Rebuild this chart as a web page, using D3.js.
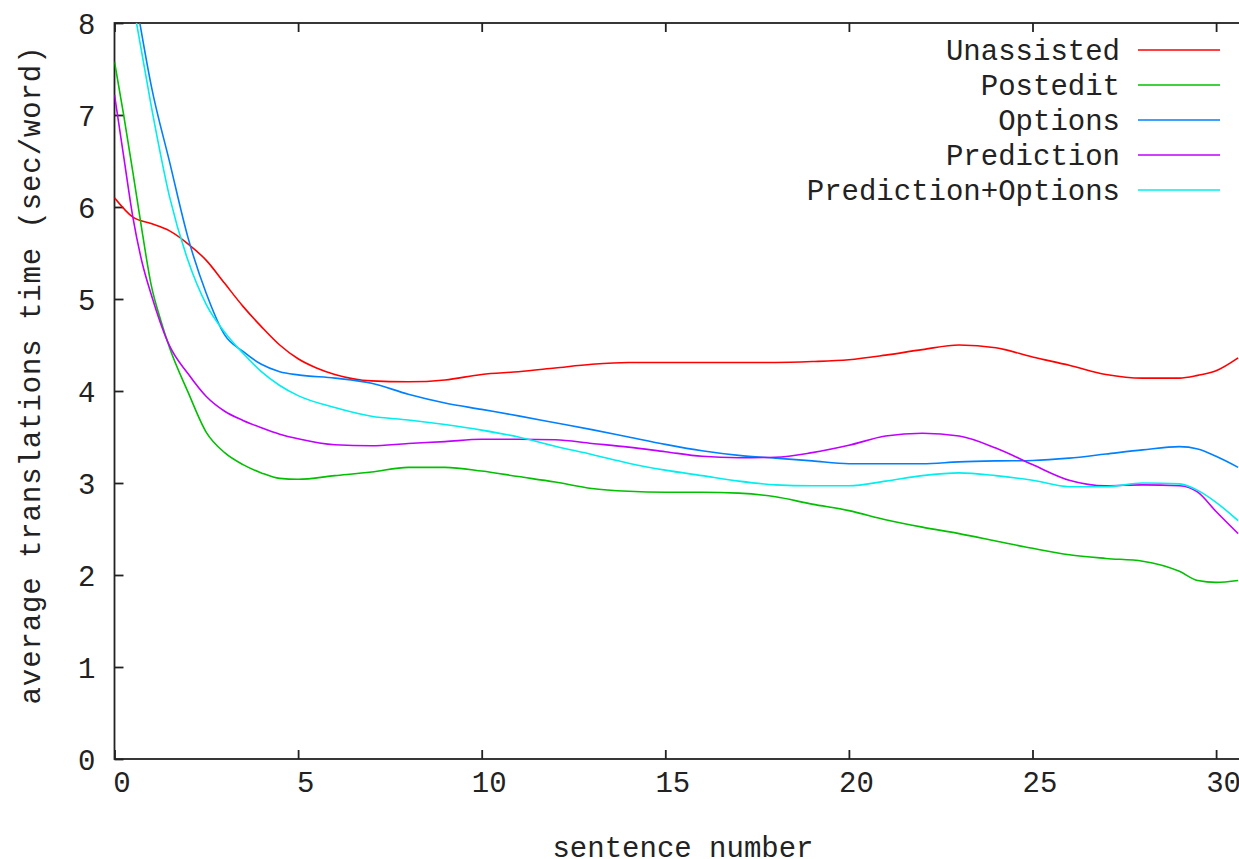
<!DOCTYPE html>
<html><head><meta charset="utf-8">
<script src="https://cdn.jsdelivr.net/npm/d3@7"></script>
<style>
html,body{margin:0;padding:0;background:#fff;}
svg{display:block;}
text{font-family:"Liberation Mono","DejaVu Sans Mono",monospace;fill:#222;}
</style></head>
<body>
<svg id="chart" width="1239" height="859"></svg>
<script>
// ---- data ----
const seriesNames = ["Unassisted","Postedit","Options","Prediction","Prediction+Options"];
const seriesColors = ["#ff0000","#00c000","#0080ff","#c000ff","#00eeee"];
const xTicks = [0,5,10,15,20,25,30];
const yTicks = [0,1,2,3,4,5,6,7,8];

const xUnassisted = [0,0.5,1,1.5,2,2.5,3,3.5,4,4.5,5,5.5,6,7,8,9,10,11,12,13,14,15,16,17,18,19,20,21,22,23,24,25,26,27,28,29,29.5,30,30.6];
const yUnassisted = [6.1,5.89,5.82,5.74,5.6,5.42,5.17,4.92,4.7,4.5,4.35,4.25,4.18,4.11,4.1,4.12,4.18,4.21,4.25,4.29,4.31,4.31,4.31,4.31,4.31,4.32,4.34,4.39,4.45,4.5,4.47,4.37,4.28,4.18,4.14,4.14,4.17,4.22,4.36];

const xPostedit = [0,0.25,0.5,0.75,1,1.25,1.5,2,2.5,3,3.5,4,4.5,5,6,7,8,9,10,11,12,13,14,15,16,17,18,19,20,21,22,23,24,25,26,27,28,29,29.5,30,30.6];
const yPostedit = [7.58,7.0,6.38,5.74,5.15,4.78,4.47,3.99,3.55,3.33,3.2,3.11,3.05,3.04,3.08,3.12,3.17,3.17,3.13,3.07,3.01,2.94,2.91,2.9,2.9,2.89,2.85,2.77,2.7,2.6,2.52,2.45,2.37,2.29,2.22,2.18,2.15,2.04,1.94,1.92,1.94];

const xOptions = [0,0.5,0.69,1,1.5,2,2.5,3,3.5,4,4.5,5,6,7,8,9,10,11,12,13,14,15,16,17,18,19,20,21,22,23,24,25,26,27,28,29,29.5,30,30.6];
const yOptions = [9.7,8.45,8.0,7.32,6.49,5.67,5.06,4.61,4.43,4.29,4.21,4.175,4.14,4.085,3.965,3.87,3.8,3.73,3.655,3.58,3.5,3.42,3.35,3.3,3.27,3.24,3.21,3.21,3.21,3.23,3.24,3.245,3.27,3.315,3.36,3.395,3.37,3.29,3.17];

const xPrediction = [0,0.25,0.5,0.75,1,1.5,2,2.5,3,3.5,4,4.5,5,6,7,8,9,10,11,12,13,14,15,16,17,18,19,20,21,22,23,24,25,26,27,28,29,29.5,30,30.6];
const yPrediction = [7.22,6.55,5.89,5.4,5.05,4.49,4.19,3.94,3.78,3.68,3.6,3.53,3.48,3.415,3.405,3.43,3.45,3.475,3.475,3.47,3.43,3.39,3.34,3.29,3.275,3.28,3.33,3.41,3.51,3.54,3.51,3.38,3.2,3.03,2.97,2.98,2.97,2.9,2.69,2.45];

const xPredOptions = [0,0.6,1,1.5,2,2.5,3,3.5,4,4.5,5,6,7,8,9,10,11,12,13,14,15,16,17,18,19,20,21,22,23,24,25,26,27,28,29,29.5,30,30.6];
const yPredOptions = [9.45,8.0,7.1,6.11,5.42,4.94,4.64,4.41,4.21,4.06,3.95,3.82,3.725,3.685,3.635,3.575,3.5,3.4,3.31,3.215,3.14,3.08,3.02,2.98,2.97,2.97,3.02,3.08,3.11,3.08,3.03,2.96,2.96,3.0,2.99,2.92,2.79,2.59];

const seriesX = [xUnassisted,xPostedit,xOptions,xPrediction,xPredOptions];
const seriesY = [yUnassisted,yPostedit,yOptions,yPrediction,yPredOptions];

// ---- layout ----
const L = 114.5, T = 23, B = 759;
const pxPerUnit = 36.72;
const xMax = 31;
const R = L + xMax*pxPerUnit; // right frame lies beyond the visible window

const svg = d3.select("#chart");
const x = d3.scaleLinear().domain([0,xMax]).range([L,R]);
const y = d3.scaleLinear().domain([0,8]).range([B,T]);

svg.append("defs").append("clipPath").attr("id","clip")
  .append("rect").attr("x",L).attr("y",T).attr("width",R-L).attr("height",B-T);

const fs = 29;
const ff = "Liberation Mono";

// axes (ticks inward), gnuplot-like
const gx = svg.append("g").attr("transform",`translate(0,${B})`)
  .call(d3.axisBottom(x).tickValues(xTicks).tickSize(-9).tickFormat(d3.format("d")));
gx.select(".domain").remove();
gx.selectAll(".tick line").attr("stroke","#222").attr("stroke-width",1.8);
gx.selectAll(".tick text").attr("font-size",fs).attr("dx",7).attr("y",24).attr("dy","0.32em")
  .attr("font-family",ff).attr("fill","#222");

const gxt = svg.append("g").attr("transform",`translate(0,${T})`)
  .call(d3.axisTop(x).tickValues(xTicks).tickSize(-9).tickFormat(""));
gxt.select(".domain").remove();
gxt.selectAll(".tick line").attr("stroke","#222").attr("stroke-width",1.8);

const gy = svg.append("g").attr("transform",`translate(${L},0)`)
  .call(d3.axisLeft(y).tickValues(yTicks).tickSize(-9).tickFormat(d3.format("d")));
gy.select(".domain").remove();
gy.selectAll(".tick line").attr("stroke","#222").attr("stroke-width",1.8);
gy.selectAll(".tick text").attr("font-size",fs).attr("x",-19).attr("dy","0.35em")
  .attr("font-family",ff).attr("fill","#222");

// frame
svg.append("rect").attr("x",L).attr("y",T).attr("width",R-L).attr("height",B-T)
  .attr("fill","none").attr("stroke","#222").attr("stroke-width",1.8);

// lines
const line = d3.line().x(d=>x(d[0])).y(d=>y(d[1])).curve(d3.curveMonotoneX);
const plot = svg.append("g").attr("clip-path","url(#clip)");
seriesNames.forEach((name,i)=>{
  const pts = seriesX[i].map((xv,j)=>[xv,seriesY[i][j]]);
  plot.append("path").datum(pts).attr("d",line)
    .attr("fill","none").attr("stroke",seriesColors[i]).attr("stroke-width",1.6);
});

// legend
const lg = svg.append("g");
seriesNames.forEach((name,i)=>{
  const cy = 50 + i*35;
  lg.append("text").attr("x",1120).attr("y",cy).attr("dy","0.35em")
    .attr("text-anchor","end").attr("font-size",fs).text(name);
  lg.append("line").attr("x1",1138).attr("x2",1220).attr("y1",cy).attr("y2",cy)
    .attr("stroke",seriesColors[i]).attr("stroke-width",1.6);
});

// axis titles
svg.append("text").attr("transform","translate(30,375) rotate(-90)")
  .attr("text-anchor","middle").attr("dy","0.35em").attr("font-size",fs)
  .attr("letter-spacing",0.9)
  .text("average translations time (sec/word)");
svg.append("text").attr("x",683).attr("y",847).attr("dy","0.35em")
  .attr("text-anchor","middle").attr("font-size",fs).text("sentence number");
</script>
</body></html>
